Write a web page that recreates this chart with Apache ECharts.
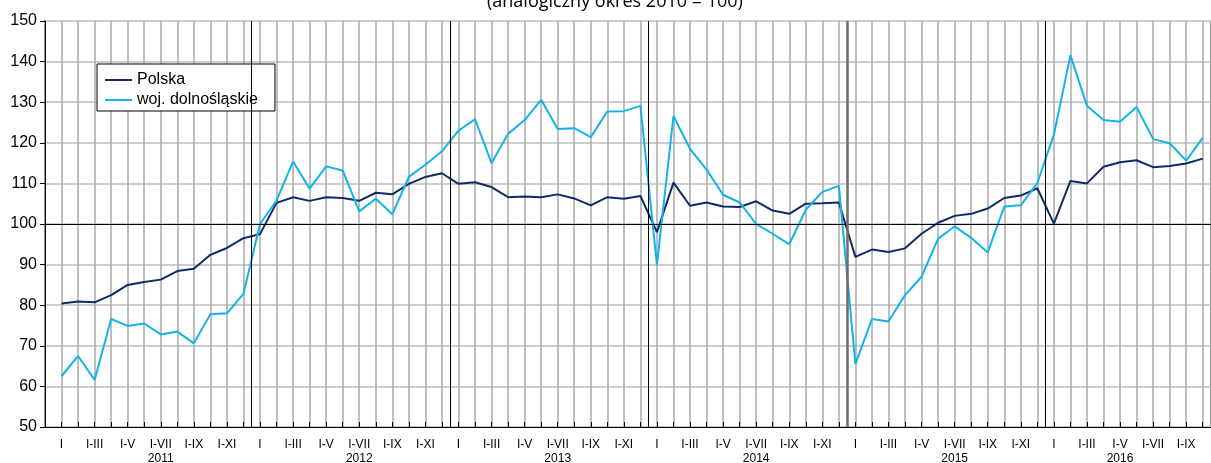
<!DOCTYPE html>
<html>
<head>
<meta charset="utf-8">
<script src="https://cdn.jsdelivr.net/npm/echarts@6/dist/echarts.min.js"></script>
<style>
  html, body { margin: 0; padding: 0; background: #fff; }
  #chart1 { width: 1211px; height: 463px; }
</style>
</head>
<body>
<div id="chart1"></div>
<script>
// miesiące: styczeń 2011 .. październik 2016
var monthLabels = ['I', '', 'I-III', '', 'I-V', '', 'I-VII', '', 'I-IX', '', 'I-XI', ''];
var years = ['2011', '2012', '2013', '2014', '2015', '2016'];
// pod którym miesiącem stoi podpis roku (0 = styczeń)
var yearLabelMonth = [6, 6, 6, 6, 6, 4];
var yTicks = [50, 60, 70, 80, 90, 100, 110, 120, 130, 140, 150];

var polska = [
    80.4, 80.9, 80.7, 82.5, 85.0, 85.7, 86.3, 88.4, 89.0, 92.4, 94.1, 96.5,
    97.5, 105.2, 106.6, 105.7, 106.6, 106.4, 105.7, 107.7, 107.3, 109.9, 111.6, 112.5,
    109.9, 110.3, 109.1, 106.6, 106.8, 106.6, 107.3, 106.3, 104.6, 106.6, 106.2, 106.9,
    98.0, 110.2, 104.5, 105.3, 104.3, 104.2, 105.6, 103.3, 102.5, 105.0, 105.1, 105.3,
    91.9, 93.7, 93.1, 94.0, 97.6, 100.3, 102.0, 102.5, 103.8, 106.4, 107.0, 108.8,
    100.1, 110.6, 110.0, 114.1, 115.2, 115.7, 114.0, 114.3, 114.9, 116.1
];
var dolnoslaskie = [
    62.5, 67.5, 61.6, 76.6, 74.9, 75.5, 72.8, 73.5, 70.6, 77.8, 78.0, 82.8,
    100.0, 105.8, 115.4, 108.7, 114.2, 113.2, 103.1, 106.2, 102.4, 111.6, 114.6, 117.9,
    123.0, 125.8, 115.0, 122.2, 125.6, 130.6, 123.4, 123.6, 121.4, 127.7, 127.8, 129.1,
    90.0, 126.6, 118.5, 113.4, 107.2, 105.3, 100.0, 97.6, 95.0, 103.5, 107.9, 109.4,
    65.5, 76.6, 76.0, 82.5, 87.0, 96.4, 99.4, 96.6, 93.0, 104.3, 104.6, 110.1,
    122.0, 141.6, 129.1, 125.6, 125.2, 128.8, 120.9, 119.9, 115.6, 121.2
];

function toPoints(arr) {
    return arr.map(function (v, i) { return [i + 1, v]; });
}

var yearBounds = [];
for (var k = 1; k < years.length; k++) {
    var b = { xAxis: k * 12 + 0.5 };
    if (k === 4) b.lineStyle = { color: '#6e6e6e', width: 2.5 };
    yearBounds.push(b);
}

var myChart1 = echarts.init(document.getElementById('chart1'));
var option = {
    animation: false,
    title: {
        text: '(analogiczny okres 2010 = 100)',
        left: 482,
        top: -12,
        textStyle: {
            fontFamily: 'Open Sans',
            fontSize: 18,
            fontWeight: 'normal',
            color: '#000'
        }
    },
    legend: {
        orient: 'vertical',
        left: 97,
        top: 64,
        padding: [8, 17, 3, 8],
        itemGap: 4,
        itemWidth: 27,
        itemHeight: 2,
        icon: 'rect',
        backgroundColor: '#fff',
        borderColor: '#000',
        borderWidth: 1,
        borderRadius: 0,
        textStyle: {
            fontFamily: 'Liberation Sans',
            fontSize: 16,
            lineHeight: 16,
            color: '#000'
        },
        data: ['Polska', 'woj. dolnośląskie']
    },
    grid: {
        left: 45,
        right: 0,
        top: 21,
        bottom: 36,
        outerBoundsMode: 'none',
        show: true,
        borderColor: '#333',
        borderWidth: 1.5
    },
    xAxis: {
        type: 'value',
        min: 0,
        max: 70.5,
        interval: 1,
        axisLine: { show: true, lineStyle: { color: '#000', width: 1 } },
        axisTick: { show: true, inside: true, length: 5, lineStyle: { color: '#000' } },
        splitLine: { show: true, lineStyle: { color: '#a8a8a8', width: 1.5 } },
        axisLabel: {
            margin: 11,
            fontFamily: 'Liberation Sans',
            fontSize: 12,
            lineHeight: 14,
            color: '#000',
            showMinLabel: false,
            showMaxLabel: false,
            formatter: function (v) {
                if (v !== Math.round(v) || v < 1 || v > polska.length) return '';
                var m = (v - 1) % 12;
                var y = Math.floor((v - 1) / 12);
                var s = monthLabels[m];
                if (m === yearLabelMonth[y]) s += '\n' + years[y];
                return s;
            }
        }
    },
    yAxis: {
        type: 'value',
        min: yTicks[0],
        max: yTicks[yTicks.length - 1],
        interval: 10,
        axisLine: { show: true, lineStyle: { color: '#000', width: 1 } },
        axisTick: { show: true, length: 5, lineStyle: { color: '#000' } },
        splitLine: { show: true, lineStyle: { color: '#cccccc', width: 2 } },
        axisLabel: {
            margin: 8,
            fontFamily: 'Liberation Sans',
            fontSize: 16,
            color: '#000'
        }
    },
    series: [
        {
            name: 'Polska',
            type: 'line',
            symbol: 'none',
            data: toPoints(polska),
            color: '#0f2a66',
            lineStyle: { width: 2 },
            markLine: {
                silent: true,
                symbol: 'none',
                label: { show: false },
                lineStyle: { color: '#000', width: 1, type: 'solid' },
                data: [{ yAxis: 100 }].concat(yearBounds)
            }
        },
        {
            name: 'woj. dolnośląskie',
            type: 'line',
            symbol: 'none',
            data: toPoints(dolnoslaskie),
            color: '#12b2ea',
            lineStyle: { width: 2 }
        }
    ]
};
myChart1.setOption(option);
window.addEventListener('resize', function () {
    myChart1.resize();
});
</script>
</body>
</html>
